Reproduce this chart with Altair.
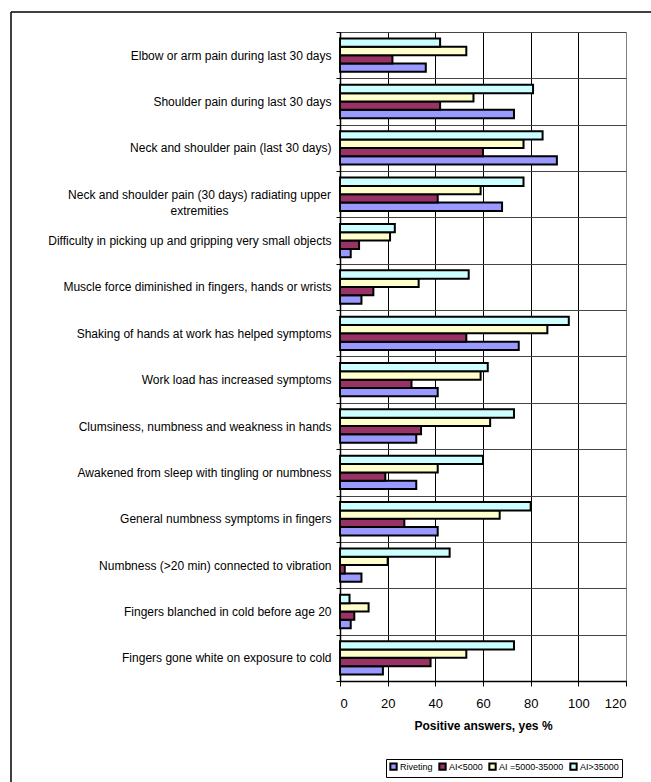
import altair as alt
import pandas as pd

categories = [
    "Elbow or arm pain during last 30 days",
    "Shoulder pain during last 30 days",
    "Neck and shoulder pain (last 30 days)",
    "Neck and shoulder pain (30 days) radiating upper extremities",
    "Difficulty in picking up and gripping very small objects",
    "Muscle force diminished in fingers, hands or wrists",
    "Shaking of hands at work has helped symptoms",
    "Work load has increased symptoms",
    "Clumsiness, numbness and weakness in hands",
    "Awakened from sleep with tingling or numbness",
    "General numbness symptoms in fingers",
    "Numbness (>20 min) connected to vibration",
    "Fingers blanched in cold before age 20",
    "Fingers gone white on exposure to cold",
]
series_names = ["Riveting", "AI<5000", "AI =5000-35000", "AI>35000"]
riveting = [36, 73, 91, 68, 4.5, 9, 75, 41, 32, 32, 41, 9, 4.5, 18]
ai_lt5000 = [22, 42, 60, 41, 8, 14, 53, 30, 34, 19, 27, 2, 6, 38]
ai_mid = [53, 56, 77, 59, 21, 33, 87, 59, 63, 41, 67, 20, 12, 53]
ai_gt35000 = [42, 81, 85, 77, 23, 54, 96, 62, 73, 60, 80, 46, 4, 73]
colors = ["#9999FF", "#993366", "#FFFFCC", "#CCFFFF"]
x_ticks = [0, 20, 40, 60, 80, 100, 120]

rows = []
for name, vals in zip(series_names, [riveting, ai_lt5000, ai_mid, ai_gt35000]):
    for c, v in zip(categories, vals):
        rows.append({"cat": c, "series": name, "value": v})
df = pd.DataFrame(rows)

FONT = "Liberation Sans"
long_label = "Neck and shoulder pain (30 days) radiating upper extremities"
is_long = "datum.value == '" + long_label + "'"
label_expr = (
    is_long + " ? ['Neck and shoulder pain (30 days) radiating upper', 'extremities'] : datum.value"
)

bars = alt.Chart(df).mark_bar(stroke="black", strokeWidth=2).encode(
    x=alt.X(
        "value:Q",
        scale=alt.Scale(domain=[0, 120], nice=False),
        axis=alt.Axis(
            values=x_ticks,
            title="Positive answers, yes %",
            grid=True,
            gridColor={"condition": {"test": "datum.value == 120", "value": "#808080"}, "value": "black"},
            gridWidth=1,
            domainColor="black",
            domainWidth=1.5,
            tickColor="black",
            tickSize=5,
            labelFontSize=13,
            labelPadding=11,
            labelColor="black",
            labelFont=FONT,
            titleFont=FONT,
            titleFontSize=12,
            titleFontWeight="bold",
            titleColor="black",
            titlePadding=10,
        ),
    ),
    y=alt.Y(
        "cat:N",
        sort=categories,
        scale=alt.Scale(paddingInner=0, paddingOuter=0),
        axis=alt.Axis(
            title=None,
            grid=True,
            gridColor="#444444",
            gridWidth=1,
            tickBand="extent",
            tickColor="black",
            tickSize=4,
            domainColor="black",
            domainWidth=1.5,
            labelFontSize=12,
            labelFont=FONT,
            labelColor="black",
            labelAlign={"condition": {"test": is_long, "value": "center"}, "value": "right"},
            labelPadding={"condition": {"test": is_long, "value": 137}, "value": 5},
            labelLimit=400,
            labelLineHeight=16,
            labelExpr=label_expr,
        ),
    ),
    yOffset=alt.YOffset(
        "series:N",
        sort=list(reversed(series_names)),
        scale=alt.Scale(paddingOuter=0.78, paddingInner=0),
    ),
    color=alt.Color(
        "series:N",
        scale=alt.Scale(domain=series_names, range=colors),
        legend=alt.Legend(
            title=None,
            orient="none",
            legendX=46,
            legendY=727,
            direction="horizontal",
            strokeColor="black",
            fillColor="white",
            padding=3,
            symbolType="square",
            symbolSize=40,
            symbolStrokeColor="black",
            symbolStrokeWidth=2,
            labelFontSize=9,
            labelFont=FONT,
            labelColor="black",
            labelOffset=2,
            columnPadding=2,
        ),
    ),
)

frame_data = alt.Data(values=[{"a": 1}])
frame_left = alt.Chart(frame_data).mark_rule(color="black", strokeWidth=1.5).encode(
    x=alt.value(-329), y=alt.value(-20), y2=alt.value(760)
)
frame_top = alt.Chart(frame_data).mark_rule(color="black", strokeWidth=1.5).encode(
    x=alt.value(-329), x2=alt.value(320), y=alt.value(-20)
)

chart = alt.layer(bars, frame_left, frame_top).properties(
    width=286,
    height=649,
    autosize=alt.AutoSizeParams(type="none"),
    padding={"left": 340, "top": 32, "right": 25, "bottom": 101},
).configure_view(
    stroke="#808080", strokeWidth=2
).configure(background="white")

chart.save("out.html", embed_options={"renderer": "svg", "actions": False})
